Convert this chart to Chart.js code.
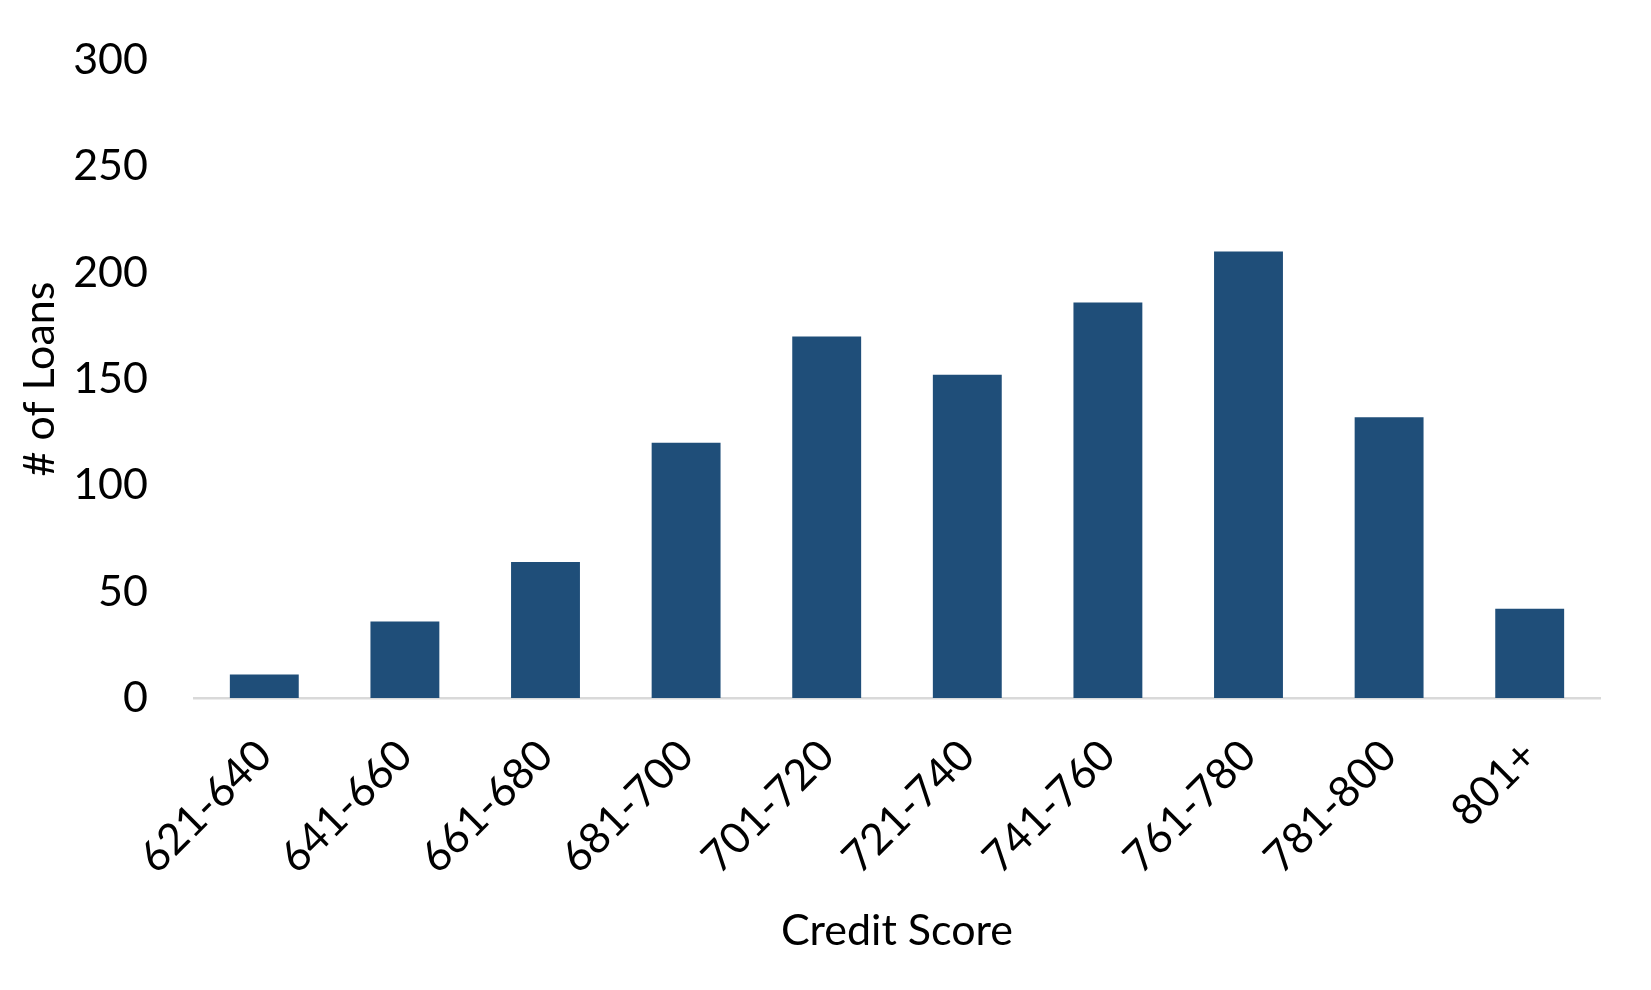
<!DOCTYPE html>
<html lang="en">
<head>
  <meta charset="UTF-8">
  <title>Loans by Credit Score</title>
  <script src="https://cdn.jsdelivr.net/npm/chart.js"></script>
  <style>
    body { margin: 0; background: #fff; }
    #wrap { width: 1651px; height: 990px; }
  </style>
</head>
<body>
  <div id="wrap">
    <canvas id="loanChart" width="1651" height="990"></canvas>
  </div>

  <script>
    // data
    const categories = ['621-640', '641-660', '661-680', '681-700', '701-720',
                        '721-740', '741-760', '761-780', '781-800', '801+'];
    const loanCounts = [11, 36, 64, 120, 170, 152, 186, 210, 132, 42];
    const yTicks = [0, 50, 100, 150, 200, 250, 300];

    const labelFont = { family: 'Lato', size: 43 };

    new Chart(document.getElementById('loanChart'), {
      type: 'bar',
      data: {
        labels: categories,
        datasets: [{
          label: '# of Loans',
          data: loanCounts,
          backgroundColor: '#1F4E79',
          borderWidth: 0,
          barPercentage: 0.49,
          categoryPercentage: 1
        }]
      },
      options: {
        responsive: false,
        animation: false,
        layout: { padding: { top: 60, right: 51, bottom: 0, left: 0 } },
        plugins: {
          legend: { display: false },
          tooltip: { enabled: false }
        },
        scales: {
          x: {
            grid: { display: false, drawTicks: false },
            border: { display: true, color: '#D9D9D9', width: 2.5 },
            ticks: {
              color: '#000',
              font: labelFont,
              minRotation: 45,
              maxRotation: 45,
              padding: 32
            },
            title: {
              display: true,
              text: 'Credit Score',
              color: '#000',
              font: labelFont,
              padding: { top: 0, bottom: 33 }
            },
            afterFit(scale) { scale.height = 292; }
          },
          y: {
            min: yTicks[0],
            max: yTicks[yTicks.length - 1],
            afterBuildTicks(scale) {
              scale.ticks = yTicks.map(v => ({ value: v }));
            },
            grid: { display: false, drawTicks: false },
            border: { display: false },
            ticks: {
              color: '#000',
              font: labelFont,
              padding: 46
            },
            title: {
              display: true,
              text: '# of Loans',
              color: '#000',
              font: labelFont,
              padding: { top: 14, bottom: 0 }
            },
            afterFit(scale) {
              scale.width = 194;
              // tick padding is only meant for the horizontal gap
              scale.paddingTop = 26;
              scale.paddingBottom = 26;
            }
          }
        }
      }
    });
  </script>
</body>
</html>
